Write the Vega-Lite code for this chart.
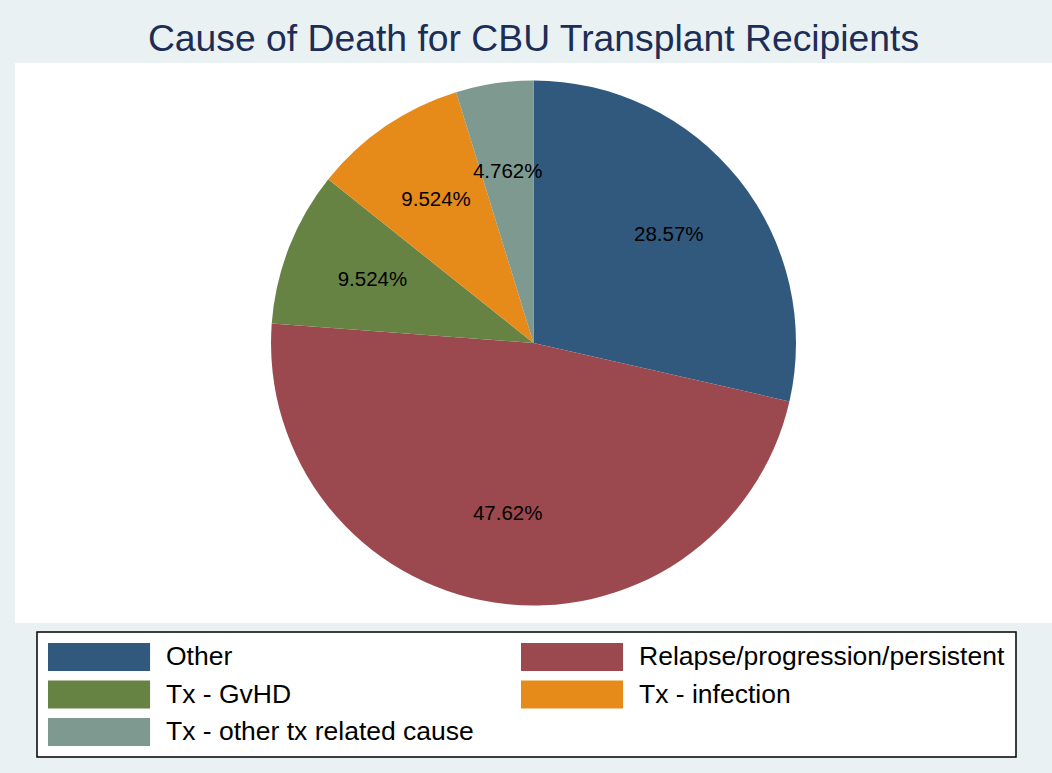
{
  "$schema": "https://vega.github.io/schema/vega-lite/v6.json",
  "width": 1037,
  "height": 560,
  "autosize": {"type": "none"},
  "padding": {"left": 15, "top": 63, "right": 0, "bottom": 150},
  "background": "#EAF1F3",
  "view": {"fill": "white", "stroke": null},
  "title": {
    "text": "Cause of Death for CBU Transplant Recipients",
    "fontSize": 37.3,
    "font": "Liberation Sans",
    "fontWeight": "normal",
    "color": "#1c2d56",
    "anchor": "middle",
    "baseline": "alphabetic",
    "offset": -25
  },
  "config": {
    "view": {"fill": "white", "stroke": null},
    "legend": {
      "orient": "none",
      "legendX": 22,
      "legendY": 569,
      "direction": "horizontal",
      "columns": 2,
      "symbolType": "M-1,-1H6.29V1H-1Z",
      "symbolSize": 784,
      "symbolStrokeWidth": 0,
      "symbolOpacity": 1,
      "labelFont": "Liberation Sans",
      "labelFontSize": 26.5,
      "labelColor": "black",
      "labelLimit": 600,
      "labelOffset": 90,
      "rowPadding": 9.5,
      "columnPadding": 47,
      "padding": 11,
      "strokeColor": "black",
      "strokeWidth": 1.5,
      "fillColor": "white"
    }
  },
  "data": {
    "values": [
      {"cause": "Other", "pct": 28.5714},
      {"cause": "Relapse/progression/persistent", "pct": 47.619},
      {"cause": "Tx - GvHD", "pct": 9.5238},
      {"cause": "Tx - infection", "pct": 9.5238},
      {"cause": "Tx - other tx related cause", "pct": 4.7619}
    ]
  },
  "layer": [
    {
      "mark": {"type": "arc", "outerRadius": 262.5, "stroke": null},
      "encoding": {
        "theta": {"field": "pct", "type": "quantitative", "stack": true},
        "order": {"field": "cause", "type": "nominal", "sort": "ascending"},
        "color": {
          "field": "cause",
          "type": "nominal",
          "scale": {
            "domain": ["Other", "Relapse/progression/persistent", "Tx - GvHD", "Tx - infection", "Tx - other tx related cause"],
            "range": ["#31597d", "#9b494f", "#668344", "#e68b1a", "#7d9990"]
          },
          "legend": {"title": null}
        }
      }
    },
    {
      "transform": [{"calculate": "format(datum.pct, '.4r') + '%'", "as": "label"}],
      "mark": {"type": "text", "radius": 173, "font": "Liberation Sans", "fontSize": 20.5, "fill": "black", "align": "center", "baseline": "middle"},
      "encoding": {
        "theta": {"field": "pct", "type": "quantitative", "stack": true},
        "order": {"field": "cause", "type": "nominal", "sort": "ascending"},
        "detail": {"field": "cause", "type": "nominal"},
        "text": {"field": "label", "type": "nominal"}
      }
    }
  ]
}
